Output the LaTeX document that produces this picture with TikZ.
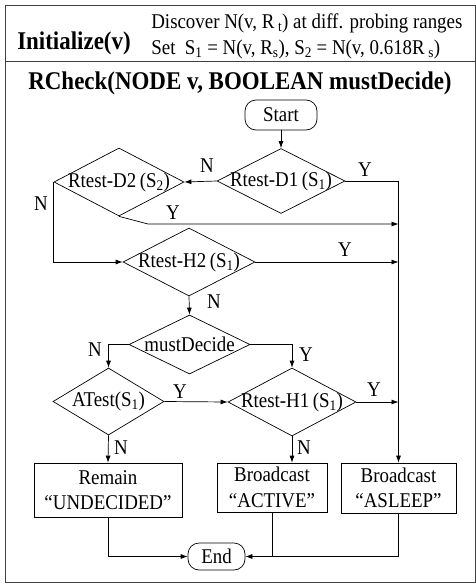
\documentclass[tikz,border=0pt]{standalone}
\usepackage{fontspec}
\setmainfont[FakeStretch=0.9]{Liberation Serif}
\usetikzlibrary{shapes.geometric,arrows.meta}
\newcommand\dtx[1]{\makebox[0pt]{#1}}
\newcommand\sbx[1]{\textsubscript{#1}}
\begin{document}
\begin{tikzpicture}[x=1pt,y=-1pt,
  every node/.style={font=\fontsize{21}{25.5}\selectfont},
  dia/.style={diamond, draw, inner sep=0pt},
  term/.style={draw, rounded corners=11pt, inner sep=0pt},
  box/.style={draw, inner sep=0pt, align=center},
  arr/.style={-{Latex[length=7pt,width=5pt]}},
  lbl/.style={inner sep=0pt},
  bigbold/.style={font=\fontsize{25.5}{28}\selectfont\bfseries},
  line width=0.7pt]
\useasboundingbox (0,0) rectangle (476,584);
% frame
\draw[line width=0.9pt, black!75] (5,5) rectangle (475,582);
\draw[line width=0.9pt, black!75] (5,61) -- (475,61);
% header
\node[bigbold] (init) at (74,43) {Initialize(v)};
\node[anchor=west, lbl] (hdr1) at (151,23) {Discover N(v, R\,\sbx{t}) at diff. probing ranges};
\node[anchor=west, lbl] (hdr2) at (151,49) {Set\ \ S\sbx{1} = N(v, R\sbx{s}), S\sbx{2} = N(v, 0.618R\,\sbx{s})};
\node[bigbold] (title) at (240,83) {RCheck(NODE v, BOOLEAN mustDecide)};
% flow nodes
\node[term, minimum width=72pt, minimum height=30pt] (start) at (281,115) {Start};
\node[dia, minimum width=128pt, minimum height=65pt] (d1) at (281,181) {\dtx{Rtest-D1\,(S\sbx{1})}};
\node[dia, minimum width=130pt, minimum height=68pt] (d2) at (119,182) {\dtx{Rtest-D2\,(S\sbx{2})}};
\node[dia, minimum width=132pt, minimum height=68pt] (h2) at (189,262) {\dtx{Rtest-H2\,(S\sbx{1})}};
\node[dia, minimum width=121pt, minimum height=59pt] (md) at (189.5,344.5) {\dtx{mustDecide}};
\node[dia, minimum width=111pt, minimum height=67pt] (at) at (108.5,401.5) {\dtx{ATest(S\sbx{1})}};
\node[dia, minimum width=128pt, minimum height=68pt] (h1) at (292,402) {\dtx{Rtest-H1\,(S\sbx{1})}};
\node[box, minimum width=148pt, minimum height=54pt] (remain) at (108,490) {Remain\\“UNDECIDED”};
\node[box, minimum width=110pt, minimum height=49pt] (active) at (272,487.5) {Broadcast\\“ACTIVE”};
\node[box, minimum width=115pt, minimum height=50pt] (asleep) at (398.5,488) {Broadcast\\“ASLEEP”};
\node[term, minimum width=57pt, minimum height=27pt] (end) at (216.5,556.5) {End};
% junction points on the right bus
\coordinate (bend2) at (148,224);
\coordinate (j1) at (asleep.north |- bend2);
\coordinate (j2) at (asleep.north |- h2.east);
\coordinate (j3) at (asleep.north |- h1.east);
% connectors
\draw[arr] (start) -- (d1.north);
\draw[arr] (d1.west) -- (d2.east);
\draw[arr] (d1.east) -| (asleep.north);
\draw[arr] (d2.south) -- (bend2) -- (j1);
\draw[arr] (d2.west) |- (h2.west);
\draw[arr] (h2.east) -- (j2);
\draw[arr] (h2.south) -- (md.north);
\draw[arr] (md.west) -| (at.north);
\draw[arr] (md.east) -| (h1.north);
\draw[arr] (at.east) -- (h1.west);
\draw[arr] (h1.east) -- (j3);
\draw[arr] (at.south) -- (remain.north);
\draw[arr] (h1.south) -- (h1.south |- active.north);
\draw[arr] (remain.south) |- (end.west);
\draw (active.south) -- (active.south |- end.east);
\draw[arr] (asleep.south) |- (end.east);
% labels
\node[lbl] (ln1) at (207,166) {N};
\node[lbl] (ly1) at (365,170) {Y};
\node[lbl] (ln2) at (41,204) {N};
\node[lbl] (ly2) at (173,213) {Y};
\node[lbl] (ly3) at (345,250) {Y};
\node[lbl] (ln3) at (214,302) {N};
\node[lbl] (ln4) at (95,350) {N};
\node[lbl] (ly4) at (306,355) {Y};
\node[lbl] (ly5) at (180,392) {Y};
\node[lbl] (ly6) at (374,390) {Y};
\node[lbl] (ln5) at (121,448) {N};
\node[lbl] (ln6) at (304,448) {N};
\end{tikzpicture}
\end{document}
